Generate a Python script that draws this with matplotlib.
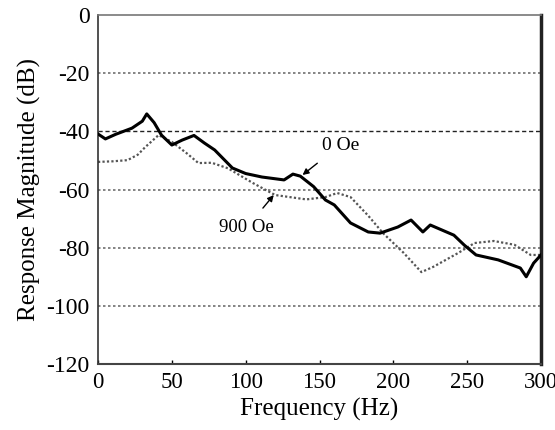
import matplotlib
matplotlib.use("Agg")
import matplotlib.pyplot as plt

plt.rcParams['font.family'] = ['Liberation Serif', 'DejaVu Serif']
plt.rcParams['axes.unicode_minus'] = False

# 0 Oe (solid)
freq_0 = [0, 5, 12, 23, 30, 33, 38, 43, 50, 57, 65, 72, 79, 91, 100, 111, 126,
          132, 137, 146, 154, 160, 171, 183, 191, 203, 212, 220, 225, 241, 248,
          256, 271, 286, 290, 295, 300]
mag_0 = [-40.9, -42.6, -41, -38.9, -36.5, -34, -37, -41.3, -44.7, -43, -41.4,
         -44, -46.4, -52.6, -54.5, -55.7, -56.7, -54.7, -55.4, -59, -63.6, -65.3,
         -71.5, -74.6, -75, -72.9, -70.5, -74.6, -72.2, -75.7, -79.1, -82.5,
         -84.2, -87, -90, -85.3, -82.5]

# 900 Oe (dotted)
freq_900 = [0, 10, 20, 27, 32, 41, 50, 60, 68, 77, 88, 105, 120, 141, 154, 162,
            171, 183, 193, 207, 219, 227, 244, 255, 268, 282, 293, 300]
mag_900 = [-50.5, -50.3, -49.9, -48, -45.4, -41.3, -43.6, -47.5, -50.9, -50.8,
           -52.7, -57.8, -61.9, -63.4, -62.6, -61.2, -62.6, -69, -75, -81.8,
           -88.4, -86.6, -81.8, -78.4, -77.7, -79, -82.5, -82.5]

xticks = [0, 50, 100, 150, 200, 250, 300]
yticks = [0, -20, -40, -60, -80, -100, -120]
grid_levels = [-20, -40, -60, -80, -100]

fig = plt.figure(figsize=(5.55, 4.30), dpi=100)
ax = fig.add_axes([0.1766, 0.1535, 0.7982, 0.8115])

for lvl in grid_levels:
    if lvl == -40:
        ax.axhline(lvl, color='#222222', lw=1.0, ls=(0, (3, 2)), zorder=1)
    else:
        ax.axhline(lvl, color='#707070', lw=1.2, ls=(0, (1.5, 1.5)), zorder=1)

ax.plot(freq_900, mag_900, color='#555555', lw=1.6, ls=(0, (1, 1)), zorder=2)
ax.plot(freq_0, mag_0, color='black', lw=2.2, zorder=3)

ax.annotate('0 Oe', xy=(138.5, -55), xytext=(164, -44.7), fontsize=14,
            ha='center', va='center',
            arrowprops=dict(arrowstyle='-|>', color='black', lw=1.0,
                            shrinkA=8, shrinkB=0, mutation_scale=9))
ax.annotate('900 Oe', xy=(119, -61.9), xytext=(100.5, -73.2), fontsize=13.5,
            ha='center', va='center',
            arrowprops=dict(arrowstyle='-|>', color='black', lw=1.0,
                            shrinkA=8, shrinkB=0, mutation_scale=9))

ax.set_xlim(0, 300)
ax.set_ylim(-120, 0)
ax.set_xticks(xticks)
ax.set_yticks(yticks)
ax.tick_params(axis='x', direction='in', length=3, width=1, labelsize=16.5, pad=6)
ax.tick_params(axis='y', length=0, labelsize=17, pad=6)
ax.set_xlabel('Frequency (Hz)', fontsize=18, labelpad=3)
ax.set_ylabel('Response Magnitude (dB)', fontsize=18, labelpad=4)

ax.spines['left'].set_color('#333333')
ax.spines['left'].set_linewidth(1.2)
ax.spines['bottom'].set_color('#444444')
ax.spines['bottom'].set_linewidth(1.5)
ax.spines['top'].set_color('#777777')
ax.spines['top'].set_linewidth(1.2)
ax.spines['right'].set_color('#222222')
ax.spines['right'].set_linewidth(2.5)

fig.savefig('out.png', dpi=100)
